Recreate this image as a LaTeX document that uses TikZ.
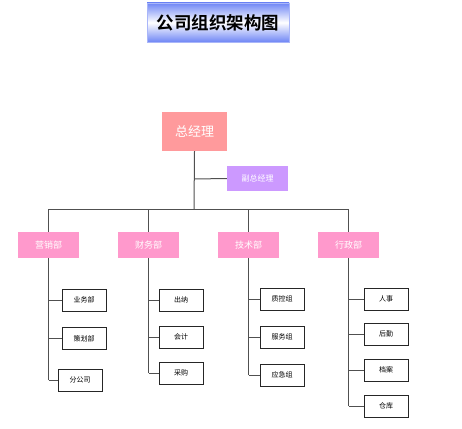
\documentclass[tikz,border=0pt]{standalone}
\usepackage{fontspec}
\setmainfont{Noto Sans CJK SC}
\newfontfamily\cjkbold{Noto Sans CJK SC Bold}
\definecolor{titleblue}{HTML}{6F86F5}
\definecolor{topbox}{HTML}{FF9A9C}
\definecolor{vicebox}{HTML}{CC99FF}
\definecolor{deptbox}{HTML}{FF99CC}
\definecolor{linegray}{HTML}{505050}
\tikzset{
  titlebox/.style={draw=titleblue!60, line width=0.6pt, top color=titleblue, bottom color=titleblue, middle color=white, minimum width=142pt, minimum height=39pt, inner sep=0pt, font=\cjkbold\fontsize{17.5}{17.5}\selectfont},
  gmbox/.style={fill=topbox, text=white, minimum width=65pt, minimum height=39pt, inner sep=0pt, font=\fontsize{13}{13}\selectfont},
  vicebx/.style={fill=vicebox, text=white, minimum width=61pt, minimum height=25pt, inner sep=0pt, font=\fontsize{8}{8}\selectfont},
  deptbx/.style={fill=deptbox, text=white, minimum width=61pt, minimum height=26pt, inner sep=0pt, font=\fontsize{9}{9}\selectfont},
  childbx/.style={draw=black!85, line width=1pt, fill=white, minimum width=44pt, minimum height=22pt, inner sep=0pt, font=\fontsize{7}{7}\selectfont},
  conn/.style={draw=linegray, line width=1pt},
}
\begin{document}
\begin{tikzpicture}[x=1pt,y=-1pt]
\useasboundingbox (0,0) rectangle (462,428);
\node[titlebox] (title) at (218,22.5) {公司组织架构图};
\node[gmbox] (gm) at (194.5,131.5) {总经理};
\node[vicebx] (vice) at (257.5,178.5) {副总经理};
\coordinate (tj) at (194,209);
\coordinate (vj) at (194,179);
\node[deptbx] (d1) at (48.5,245) {营销部};
\node[deptbx] (d2) at (148.5,245) {财务部};
\node[deptbx] (d3) at (248.5,245) {技术部};
\node[deptbx] (d4) at (348.5,245) {行政部};
\coordinate (b1) at (48.5,209);
\coordinate (b4) at (348.5,209);
% children
\node[childbx] (c11) at (84,300) {业务部};
\node[childbx] (c12) at (84,338.5) {策划部};
\node[childbx] (c13) at (80,380) {分公司};
\node[childbx] (c21) at (181,300) {出纳};
\node[childbx] (c22) at (181,337) {会计};
\node[childbx] (c23) at (181,373) {采购};
\node[childbx] (c31) at (282,299) {质控组};
\node[childbx] (c32) at (282,337) {服务组};
\node[childbx] (c33) at (282,375) {应急组};
\node[childbx] (c41) at (386,299) {人事};
\node[childbx] (c42) at (386,334) {后勤};
\node[childbx] (c43) at (386,370) {档案};
\node[childbx] (c44) at (386,406) {仓库};
% trunk
\draw[conn] (gm.south) -- (tj);
\draw[conn] (vj) -- (vice.west);
\draw[conn] (b1) -- (b4);
\foreach \d in {d1,d2,d3,d4} \draw[conn] (\d.north) -- (\d.north |- tj);
% department verticals
\draw[conn] (d1.south) -- (d1.south |- c13.west);
\draw[conn] (d2.south) -- (d2.south |- c23.west);
\draw[conn] (d3.south) -- (d3.south |- c33.west);
\draw[conn] (d4.south) -- (d4.south |- c44.west);
\foreach \c in {c11,c12,c13} \draw[conn] (d1.south |- \c.west) -- (\c.west);
\foreach \c in {c21,c22,c23} \draw[conn] (d2.south |- \c.west) -- (\c.west);
\foreach \c in {c31,c32,c33} \draw[conn] (d3.south |- \c.west) -- (\c.west);
\foreach \c in {c41,c42,c43,c44} \draw[conn] (d4.south |- \c.west) -- (\c.west);
\end{tikzpicture}
\end{document}
